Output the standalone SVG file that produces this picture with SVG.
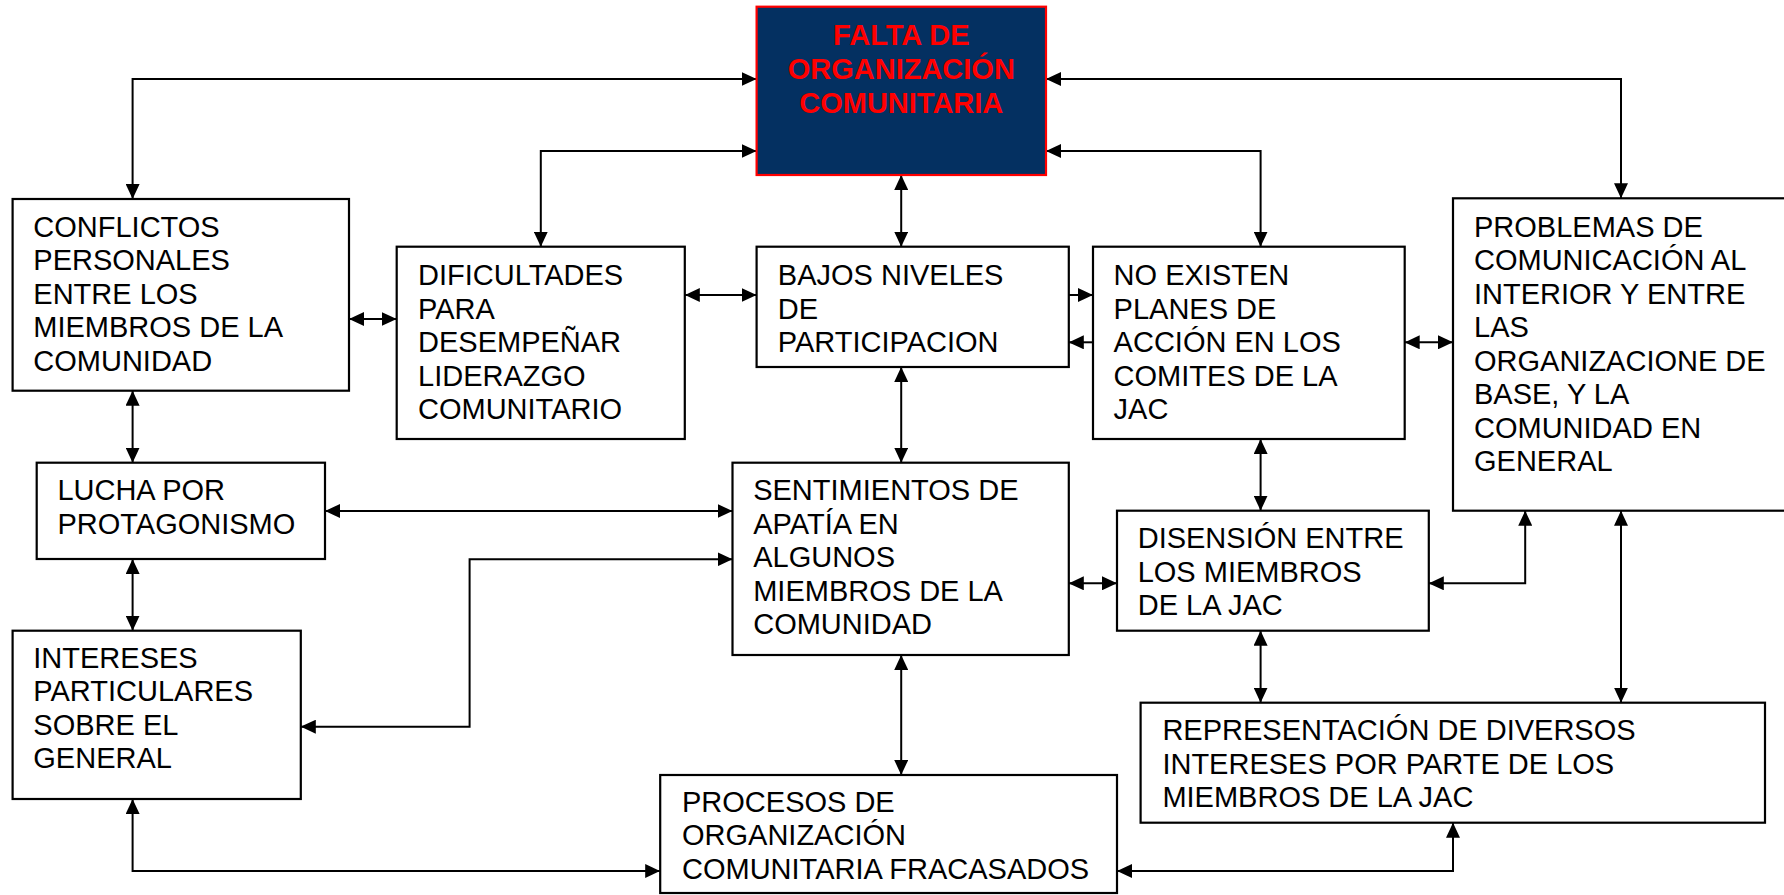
<svg xmlns="http://www.w3.org/2000/svg" width="1784" height="895" viewBox="0 0 1784 895">
<style>
.box{fill:#ffffff;stroke:#000000;stroke-width:2.2}
.t{font-family:"Liberation Sans",Arial,sans-serif;font-size:29px;fill:#000000}
.h{font-family:"Liberation Sans",Arial,sans-serif;font-size:29px;font-weight:bold;fill:#ff0000}
.c{fill:none;stroke:#000000;stroke-width:2;marker-start:url(#ah);marker-end:url(#ah)}
.c1{fill:none;stroke:#000000;stroke-width:2;marker-end:url(#ah)}
</style>
<defs>
<marker id="ah" markerUnits="userSpaceOnUse" markerWidth="15" markerHeight="14" viewBox="0 0 15 14" refX="15" refY="7" orient="auto-start-reverse">
<path d="M0,0 L15,7 L0,14 z" fill="#000000"/>
</marker>
</defs>
<rect width="1784" height="895" fill="#ffffff"/>

<g id="connectors">
<path class="c" d="M756.6,79 H132.6 V199"/>
<path class="c" d="M756.6,151 H540.8 V246.7"/>
<path class="c" d="M901.2,175 V246.7"/>
<path class="c" d="M1046,79 H1621 V198.3"/>
<path class="c" d="M1046,151 H1260.6 V246.7"/>
<path class="c" d="M349,319 H396.7"/>
<path class="c" d="M684.8,295 H756.6"/>
<path class="c1" d="M1068.8,295 H1093"/>
<path class="c1" d="M1093,342.3 H1068.8"/>
<path class="c" d="M1404.7,342.3 H1453"/>
<path class="c" d="M901.2,367 V462.7"/>
<path class="c" d="M132.6,390.7 V462.7"/>
<path class="c" d="M325,511 H732.5"/>
<path class="c" d="M300.8,726.7 H469.6 V559.3 H732.5"/>
<path class="c" d="M132.6,559 V630.7"/>
<path class="c" d="M132.6,799 V871 H660.2"/>
<path class="c" d="M901.2,655 V775"/>
<path class="c" d="M1260.6,439 V510.7"/>
<path class="c" d="M1068.8,583.3 H1117"/>
<path class="c" d="M1525.2,510.7 V583.3 H1428.8"/>
<path class="c" d="M1621,510.7 V702.7"/>
<path class="c" d="M1260.6,630.7 V702.7"/>
<path class="c" d="M1453,822.7 V871 H1117"/>
</g>

<g id="falta">
<rect x="756.6" y="6.7" width="289.4" height="168.3" fill="#043061" stroke="#ff0000" stroke-width="2.2"/>
<text class="h" text-anchor="middle"><tspan x="901.3" y="45">FALTA DE</tspan><tspan x="901.3" y="79">ORGANIZACIÓN</tspan><tspan x="901.3" y="112.7">COMUNITARIA</tspan></text>
</g>

<g id="conflictos">
<rect class="box" x="12.6" y="199" width="336.4" height="191.7"/>
<text class="t"><tspan x="33.3" y="236.7">CONFLICTOS</tspan><tspan x="33.3" y="270.2">PERSONALES</tspan><tspan x="33.3" y="303.7">ENTRE LOS</tspan><tspan x="33.3" y="337.2">MIEMBROS DE LA</tspan><tspan x="33.3" y="370.7">COMUNIDAD</tspan></text>
</g>

<g id="dificultades">
<rect class="box" x="396.7" y="246.7" width="288.1" height="192.3"/>
<text class="t"><tspan x="418" y="285">DIFICULTADES</tspan><tspan x="418" y="318.5">PARA</tspan><tspan x="418" y="352">DESEMPEÑAR</tspan><tspan x="418" y="385.5">LIDERAZGO</tspan><tspan x="418" y="419">COMUNITARIO</tspan></text>
</g>

<g id="bajos">
<rect class="box" x="756.6" y="246.7" width="312.2" height="120.3"/>
<text class="t"><tspan x="777.8" y="285">BAJOS NIVELES</tspan><tspan x="777.8" y="318.5">DE</tspan><tspan x="777.8" y="352">PARTICIPACION</tspan></text>
</g>

<g id="noexisten">
<rect class="box" x="1093" y="246.7" width="311.7" height="192.3"/>
<text class="t"><tspan x="1113.6" y="285">NO EXISTEN</tspan><tspan x="1113.6" y="318.5">PLANES DE</tspan><tspan x="1113.6" y="352">ACCIÓN EN LOS</tspan><tspan x="1113.6" y="385.5">COMITES DE LA</tspan><tspan x="1113.6" y="419">JAC</tspan></text>
</g>

<g id="problemas">
<rect class="box" x="1453" y="198.3" width="340" height="312.4"/>
<text class="t"><tspan x="1474" y="236.7">PROBLEMAS DE</tspan><tspan x="1474" y="270.2">COMUNICACIÓN AL</tspan><tspan x="1474" y="303.7">INTERIOR Y ENTRE</tspan><tspan x="1474" y="337.2">LAS</tspan><tspan x="1474" y="370.7">ORGANIZACIONE DE</tspan><tspan x="1474" y="404.2">BASE, Y LA</tspan><tspan x="1474" y="437.7">COMUNIDAD EN</tspan><tspan x="1474" y="471.2">GENERAL</tspan></text>
</g>

<g id="lucha">
<rect class="box" x="36.7" y="462.7" width="288.3" height="96.3"/>
<text class="t"><tspan x="57.4" y="500">LUCHA POR</tspan><tspan x="57.4" y="534.3">PROTAGONISMO</tspan></text>
</g>

<g id="sentimientos">
<rect class="box" x="732.5" y="462.7" width="336.3" height="192.3"/>
<text class="t"><tspan x="753.2" y="500">SENTIMIENTOS DE</tspan><tspan x="753.2" y="533.5">APATÍA EN</tspan><tspan x="753.2" y="567">ALGUNOS</tspan><tspan x="753.2" y="600.5">MIEMBROS DE LA</tspan><tspan x="753.2" y="634">COMUNIDAD</tspan></text>
</g>

<g id="disension">
<rect class="box" x="1117" y="510.7" width="311.8" height="120"/>
<text class="t"><tspan x="1137.7" y="548.3">DISENSIÓN ENTRE</tspan><tspan x="1137.7" y="581.8">LOS MIEMBROS</tspan><tspan x="1137.7" y="615.3">DE LA JAC</tspan></text>
</g>

<g id="intereses">
<rect class="box" x="12.6" y="630.7" width="288.2" height="168.3"/>
<text class="t"><tspan x="33.3" y="667.7">INTERESES</tspan><tspan x="33.3" y="701.2">PARTICULARES</tspan><tspan x="33.3" y="734.7">SOBRE EL</tspan><tspan x="33.3" y="768.2">GENERAL</tspan></text>
</g>

<g id="representacion">
<rect class="box" x="1140.6" y="702.7" width="624.4" height="120"/>
<text class="t"><tspan x="1162.4" y="740">REPRESENTACIÓN DE DIVERSOS</tspan><tspan x="1162.4" y="773.5">INTERESES POR PARTE DE LOS</tspan><tspan x="1162.4" y="807">MIEMBROS DE LA JAC</tspan></text>
</g>

<g id="procesos">
<rect class="box" x="660.2" y="775" width="456.8" height="118"/>
<text class="t"><tspan x="682" y="811.7">PROCESOS DE</tspan><tspan x="682" y="845.2">ORGANIZACIÓN</tspan><tspan x="682" y="878.7">COMUNITARIA FRACASADOS</tspan></text>
</g>
</svg>
